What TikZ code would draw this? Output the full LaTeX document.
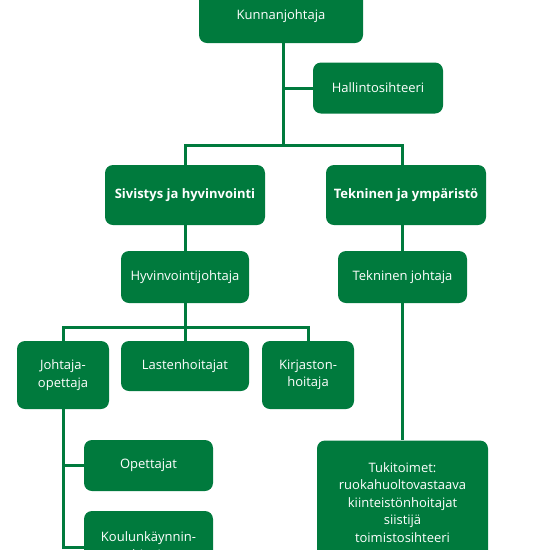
\documentclass[tikz,border=0pt]{standalone}
\usepackage{fontspec}
\setmainfont{Open Sans}
\usepackage{tikz}
\usetikzlibrary{backgrounds}
\definecolor{kuntavihrea}{RGB}{0,122,61}

\begin{document}
\begin{tikzpicture}[x=1pt,y=-1pt,
  box/.style={fill=kuntavihrea,text=white,rounded corners=8pt,align=center,
    inner sep=0pt,font=\fontsize{13}{17.5}\selectfont},
  boldbox/.style={box,font=\fontsize{13}{17.5}\selectfont\bfseries},
  yhteys/.style={draw=kuntavihrea,line width=3pt}]
\clip (0,0) rectangle (550,550);

% Johto
\node[box,minimum width=164,minimum height=54] (kunnan) at (281,16) {Kunnanjohtaja};
\node[box,minimum width=130,minimum height=51] (hallinto) at (378,88) {Hallintosihteeri};
\coordinate (haara) at (283,145);

% Toimialat
\node[boldbox,minimum width=160,minimum height=60] (sivistys) at (185,195) {Sivistys ja hyvinvointi};
\node[boldbox,minimum width=160,minimum height=60] (tekninen) at (406,195) {Tekninen ja ympäristö};
\node[box,minimum width=128,minimum height=52] (hyvinvointi) at (185,277) {Hyvinvointijohtaja};
\node[box,minimum width=129,minimum height=52] (teknjoht) at (402.5,277) {Tekninen johtaja};
\coordinate (haara2) at (185,327);

% Sivistys
\node[box,minimum width=92,minimum height=68] (johtaja) at (63,375) {Johtaja-\\opettaja};
\node[box,minimum width=128,minimum height=50] (lasten) at (185,366) {Lastenhoitajat};
\node[box,minimum width=92,minimum height=68] (kirjasto) at (308,375) {Kirjaston-\\hoitaja};
\node[box,minimum width=129,minimum height=51] (opettajat) at (148.5,465.5) {Opettajat};
\node[box,minimum width=129,minimum height=72] (koulu) at (148.5,547) {Koulunkäynnin-\\ohjaajat};

% Tekninen
\node[box,minimum width=171,minimum height=124] (tuki) at (402.5,502.5)
  {Tukitoimet:\\ruokahuoltovastaava\\kiinteistönhoitajat\\siistijä\\toimistosihteeri};

% Yhteydet
\begin{scope}[on background layer]
\draw[yhteys] (kunnan.south -| haara) -- (haara);
\draw[yhteys] (hallinto.west) -- (hallinto.west -| haara);
\draw[yhteys] (sivistys) |- (haara) -| (tuki);
\draw[yhteys] (sivistys) -- (lasten);
\draw[yhteys] (johtaja) |- (haara2) -| (kirjasto);
\draw[yhteys] (johtaja) |- (koulu.west);
\draw[yhteys] (johtaja |- opettajat) -- (opettajat.west);
\end{scope}
\end{tikzpicture}
\end{document}
